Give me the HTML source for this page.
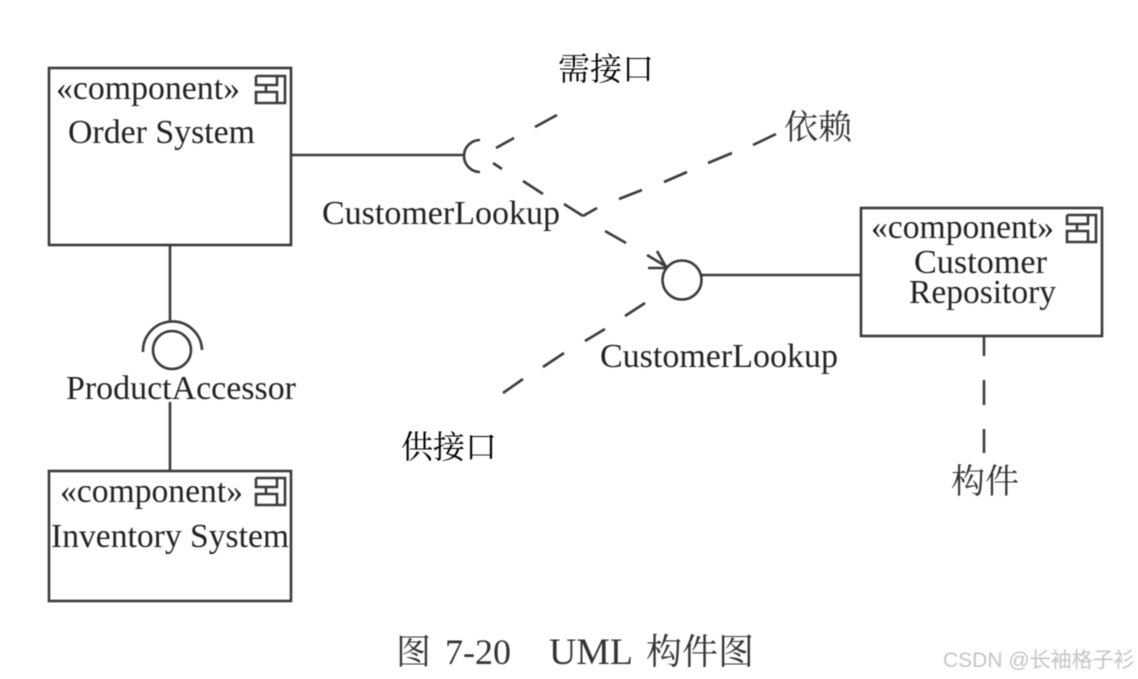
<!DOCTYPE html>
<html>
<head>
<meta charset="utf-8">
<style>
html,body{margin:0;padding:0;background:#fff;width:1138px;height:679px;overflow:hidden}
svg{display:block;filter:blur(.6px)}
text{font-family:"Liberation Serif","Noto Serif CJK SC",serif;fill:#222}
</style>
</head>
<body>
<svg width="1138" height="679" viewBox="0 0 1138 679" xmlns="http://www.w3.org/2000/svg">
<g fill="none" stroke="#3a3a3a" stroke-width="2.6">
<rect x="49" y="68" width="242" height="177"/>
<rect x="49" y="471" width="242" height="130"/>
<rect x="861" y="208" width="241" height="128"/>
<path d="M291 155H464"/>
<path d="M480 140A16 16 0 0 0 480 172"/>
<path d="M170 245V322"/>
<path d="M170 402V471"/>
<circle cx="172" cy="350" r="19"/>
<path d="M143 352A29.5 29.5 0 0 1 202 350"/>
<circle cx="682" cy="280" r="19.5"/>
<path d="M701 275H861"/>
<path d="M984 337V356M984 380V405M984 429V453"/>
<!-- upper required dashes -->
<path d="M496 148L514 138M535 127L557 115"/>
<!-- dependency -->
<path d="M493 163L502 169M523 181L543 194M564 204L583 216M605 231L626 243M647 255L667 267"/>
<path d="M657 251L666 267M648 268H666"/>
<!-- label pointer -->
<path d="M583 216L597 208M619 199L642 190M664 182L687 172M708 163L732 153M753 145L776 134"/>
<!-- provided dashes -->
<path d="M503 393L523 379M543 367L564 353M585 341L605 329M625 316L645 303"/>
<!-- component icons -->
<g stroke-width="2.6">
<path d="M256 76H285V103H256V92H277V103M256 76V85H277V76M266 85V92"/>
<path transform="translate(0 402)" d="M256 76H285V103H256V92H277V103M256 76V85H277V76M266 85V92"/>
<path transform="translate(811 139)" d="M256 76H285V103H256V92H277V103M256 76V85H277V76M266 85V92"/>
</g>
</g>
<g font-size="34">
<text x="56" y="99" textLength="184" lengthAdjust="spacingAndGlyphs">«component»</text>
<text x="68" y="143" textLength="187" lengthAdjust="spacingAndGlyphs">Order System</text>
<text x="60" y="502" textLength="183" lengthAdjust="spacingAndGlyphs">«component»</text>
<text x="51" y="547" textLength="238" lengthAdjust="spacingAndGlyphs">Inventory System</text>
<text x="871" y="238" textLength="183" lengthAdjust="spacingAndGlyphs">«component»</text>
<text x="914" y="273" textLength="133" lengthAdjust="spacingAndGlyphs">Customer</text>
<text x="909" y="303" textLength="147" lengthAdjust="spacingAndGlyphs">Repository</text>
<text x="322" y="224" textLength="238" lengthAdjust="spacingAndGlyphs">CustomerLookup</text>
<text x="600" y="367" textLength="238" lengthAdjust="spacingAndGlyphs">CustomerLookup</text>
<text x="66" y="399" textLength="230" lengthAdjust="spacingAndGlyphs">ProductAccessor</text>
</g>
<g font-size="32">
<text x="558" y="80" style="fill:#000">需接口</text>
<text x="784" y="139" font-size="34" style="fill:#333">依赖</text>
<text x="401" y="458" style="fill:#000">供接口</text>
<text x="951" y="493" font-size="34" style="fill:#333">构件</text>
<text x="396" y="664" font-size="35" style="fill:#333">图</text>
<text x="445" y="664" font-size="36" textLength="66" lengthAdjust="spacingAndGlyphs" style="fill:#333">7-20</text>
<text x="549" y="664" font-size="37" textLength="84" lengthAdjust="spacingAndGlyphs" style="fill:#333">UML</text>
<text x="646" y="664" font-size="36" style="fill:#333">构件图</text>
</g>
<text x="943" y="667" font-size="21" style="font-family:'Liberation Sans','Noto Sans CJK SC',sans-serif;fill:#c4c4c4">CSDN @长袖格子衫</text>
</svg>
</body>
</html>
